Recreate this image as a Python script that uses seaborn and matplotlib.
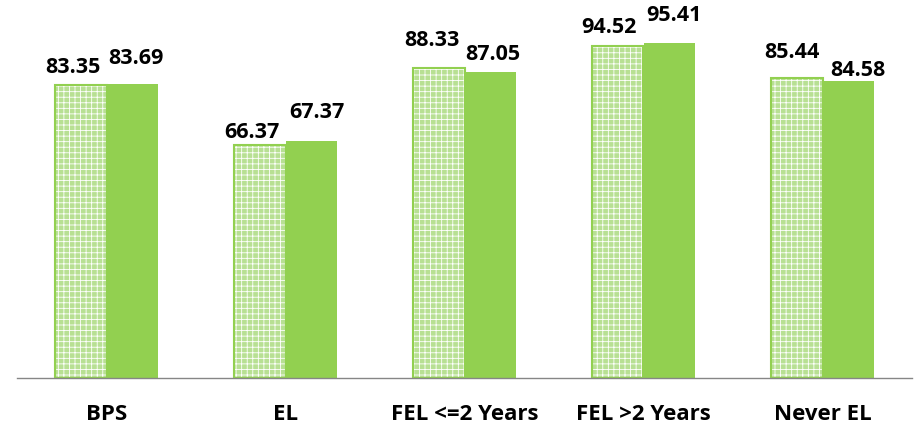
import pandas as pd
import matplotlib.pyplot as plt
import seaborn as sns

# ---------------- Data ----------------

categories = ["BPS", "EL", "FEL <=2 Years", "FEL >2 Years", "Never EL"]
series_1 = [83.35, 66.37, 88.33, 94.52, 85.44]
series_2 = [83.69, 67.37, 87.05, 95.41, 84.58]
series_names = ["Series 1", "Series 2"]

df = pd.DataFrame({
    "Category": categories * 2,
    "Value": series_1 + series_2,
    "Series": [series_names[0]] * len(categories) + [series_names[1]] * len(categories),
})

# label nudges (pixels) so the values don't collide, like in the original
label_dx = [[-8, -8, -7, -9, -5], [4, 6, 3, 5, 10]]
label_dy = [[12, 7, 22, 13, 20], [20, 23, 12, 22, 5]]

# ---------------- Plot ----------------

sns.set_style("white")
plt.rcParams["font.family"] = ["Open Sans", "DejaVu Sans"]
plt.rcParams["hatch.linewidth"] = 0.6

fig = plt.figure(figsize=(9.14, 4.29), dpi=100)
ax = fig.add_axes([17 / 914, 51 / 429, 895 / 914, 378 / 429])

sns.barplot(
    data=df, x="Category", y="Value", hue="Series",
    palette=["#b8e093", "#92d050"], width=0.57, dodge=True,
    saturation=1, legend=False, ax=ax,
)

n = len(categories)
for i, patch in enumerate(ax.patches[:2 * n]):
    if i < n:
        patch.set_hatch("+++")
        patch.set_edgecolor("white")
        patch.set_linewidth(0)
    else:
        patch.set_edgecolor("none")

# outline for hatched bars
for patch in ax.patches[:n]:
    ax.add_patch(plt.Rectangle(patch.get_xy(), patch.get_width(), patch.get_height(),
                               fill=False, edgecolor="#92d050", linewidth=1.5))

for s, container in enumerate(ax.containers):
    for j, bar in enumerate(container):
        ax.annotate(
            f"{bar.get_height():.2f}",
            xy=(bar.get_x() + bar.get_width() / 2, bar.get_height()),
            xytext=(label_dx[s][j], label_dy[s][j]), textcoords="offset pixels",
            ha="center", va="baseline", fontsize=15.5, fontweight="bold",
            color="black",
        )

ax.set_ylim(0, 378 / 3.515)
ax.set_xlim(-0.5, n - 0.5)
ax.set_xlabel("")
ax.set_ylabel("")
ax.set_yticks([])

for side in ["top", "right", "left"]:
    ax.spines[side].set_visible(False)
ax.spines["bottom"].set_color("#868686")
ax.spines["bottom"].set_linewidth(1)

ax.set_xticks([i - 0.5 for i in range(n + 1)], minor=True)
ax.tick_params(axis="x", which="minor", length=8, width=1, color="#868686", direction="out")
ax.tick_params(axis="x", which="major", length=0, pad=19, labelcolor="black")
for lbl in ax.get_xticklabels():
    lbl.set_fontsize(16)
    lbl.set_fontweight("bold")

plt.savefig("out.png", dpi=100)
